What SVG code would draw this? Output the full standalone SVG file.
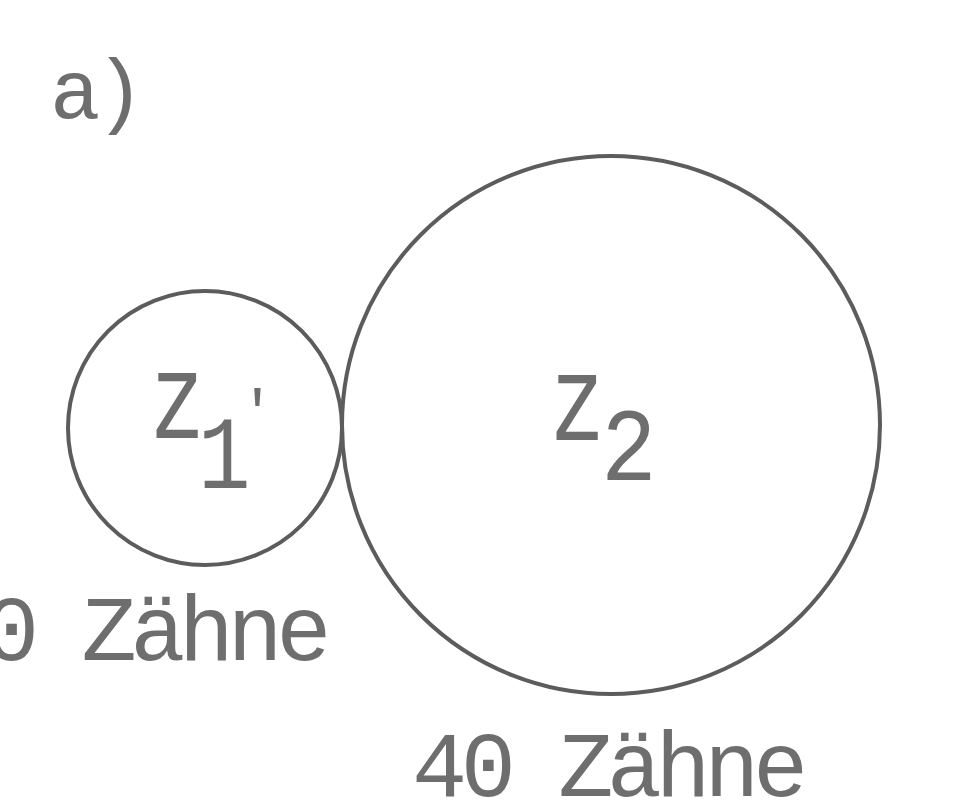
<svg xmlns="http://www.w3.org/2000/svg" width="953" height="801" viewBox="0 0 953 801">
<style>
.gear{fill:none;stroke:#5c5c5c;stroke-width:4}
.t{font-family:"Liberation Mono","DejaVu Sans Mono",monospace;fill:#6e6e6e}
.lab{font-size:92px;letter-spacing:-6.5px}
</style>
<rect width="953" height="801" fill="#ffffff"/>
<g id="title">
<text class="t" x="50" y="118" font-size="84" letter-spacing="-6">a)</text>
</g>
<g id="gear1">
<circle class="gear" cx="205" cy="428" r="137"/>
<text class="t" font-size="122" transform="translate(150,438) scale(0.75,1)">z</text>
<text class="t" font-size="103" transform="translate(198,488) scale(0.85,1)">1</text>
<text class="t" x="240" y="430" font-size="58">'</text>
<text class="t lab" x="-16" y="660">0 Zähne</text>
</g>
<g id="gear2">
<circle class="gear" cx="611" cy="425" r="269"/>
<text class="t" font-size="122" transform="translate(550,440) scale(0.75,1)">z</text>
<text class="t" font-size="103" transform="translate(601,480) scale(0.9,1)">2</text>
<text class="t lab" x="412" y="796">40 Zähne</text>
</g>
</svg>
